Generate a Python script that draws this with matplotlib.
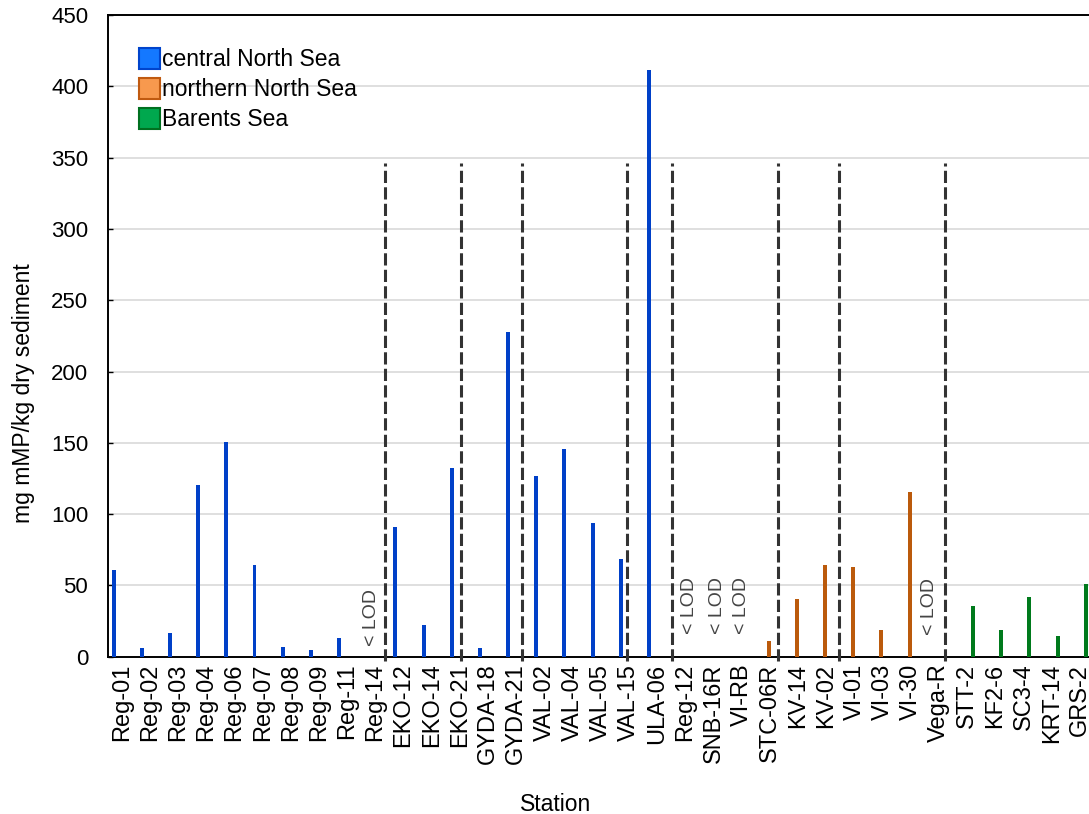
import matplotlib
matplotlib.use("Agg")
import matplotlib.pyplot as plt
from matplotlib.patches import Patch
import numpy as np

stations = ["Reg-01", "Reg-02", "Reg-03", "Reg-04", "Reg-06", "Reg-07", "Reg-08", "Reg-09",
            "Reg-11", "Reg-14", "EKO-12", "EKO-14", "EKO-21", "GYDA-18", "GYDA-21", "VAL-02",
            "VAL-04", "VAL-05", "VAL-15", "ULA-06", "Reg-12", "SNB-16R", "VI-RB", "STC-06R",
            "KV-14", "KV-02", "VI-01", "VI-03", "VI-30", "Vega-R", "STT-2", "KF2-6", "SC3-4",
            "KRT-14", "GRS-2"]

central_north_sea = [60.8, 6.1, 16.8, 120.4, 150.6, 64.3, 6.8, 4.7, 13.1, 0, 91.0, 22.2, 132.3,
                     6.1, 227.7, 126.7, 145.6, 93.8, 68.5, 411.4, 0, 0, 0, 0, 0, 0, 0, 0, 0, 0,
                     0, 0, 0, 0, 0]
northern_north_sea = [0] * 23 + [11.2, 40.5, 64.3, 62.9, 18.7, 115.5, 0, 0, 0, 0, 0, 0]
barents_sea = [0] * 30 + [35.6, 18.7, 41.9, 14.5, 51.0]

series_names = ["central North Sea", "northern North Sea", "Barents Sea"]
bar_colors = ["#0040C8", "#BB5A0C", "#007A1C"]
legend_faces = ["#1478FF", "#F7994E", "#00A84E"]
legend_edges = ["#0044CC", "#C05A10", "#007020"]

separators = [9.34, 12.04, 14.19, 17.92, 19.54, 23.30, 25.45, 29.2]
separator_top = 346

lod_positions = [8.87, 20.14, 21.14, 22.0, 28.66]
lod_bottoms = [7.5, 16, 16, 16, 15]

yticks = list(range(0, 451, 50))

plt.rcParams['font.family'] = ['Liberation Sans', 'DejaVu Sans']

fig = plt.figure(figsize=(10.89, 8.14), dpi=100)
ax = fig.add_axes([0.0989, 0.1932, 1.0045 - 0.0989, 0.9816 - 0.1932])

x = np.arange(len(stations))
offsets = [-0.29, -0.04, 0.21]
width = 0.14
for vals, off, c in zip([central_north_sea, northern_north_sea, barents_sea], offsets, bar_colors):
    ax.bar(x + off, vals, width=width, color=c, edgecolor='none', zorder=3)

for s in separators:
    ax.plot([s, s], [-3, separator_top], color='#333333', lw=2.2,
            linestyle=(0, (4, 1.4)), zorder=4, clip_on=False, solid_capstyle='butt',
            dash_capstyle='butt')

for xp, yb in zip(lod_positions, lod_bottoms):
    ax.text(xp, yb, "< LOD", rotation=90, ha='center', va='bottom', fontsize=14,
            color='#444444', zorder=5)

ax.set_xlim(-0.5, 34.5)
ax.set_ylim(0, 450)
ax.set_yticks(yticks)
ax.set_xticks(x)
ax.set_xticklabels(stations, rotation=90, fontsize=17)
ax.set_xticks(x[::2], minor=True)
ax.tick_params(axis='x', which='major', length=0, pad=5)
ax.tick_params(axis='x', which='minor', length=3.5, width=1.0, direction='in', top=True, bottom=True)
ax.tick_params(axis='y', which='major', length=3.5, width=1.0, direction='in', labelsize=16, pad=14,
               left=True, right=False)

ax.yaxis.grid(True, color='#d9d9d9', lw=1.2, zorder=0)
ax.set_axisbelow(True)
for sp in ax.spines.values():
    sp.set_linewidth(1.4)
    sp.set_color('black')

ax.set_xlabel("Station", fontsize=16.5)
ax.set_ylabel("mg mMP/kg dry sediment", fontsize=16.5)
ax.xaxis.set_label_coords(0.4546, -0.212)
ax.yaxis.set_label_coords(-0.074, 0.411)

handles = [Patch(facecolor=f, edgecolor=e, linewidth=1.5, label=n)
           for f, e, n in zip(legend_faces, legend_edges, series_names)]
ax.legend(handles=handles, loc='upper left', bbox_to_anchor=(139 / 1089, 1 - 48 / 814),
          bbox_transform=fig.transFigure, frameon=False, fontsize=16.5, borderpad=0,
          handlelength=0.9, handleheight=1.02, handletextpad=0.12, labelspacing=0.3,
          borderaxespad=0)

fig.savefig("out.png", dpi=100)
